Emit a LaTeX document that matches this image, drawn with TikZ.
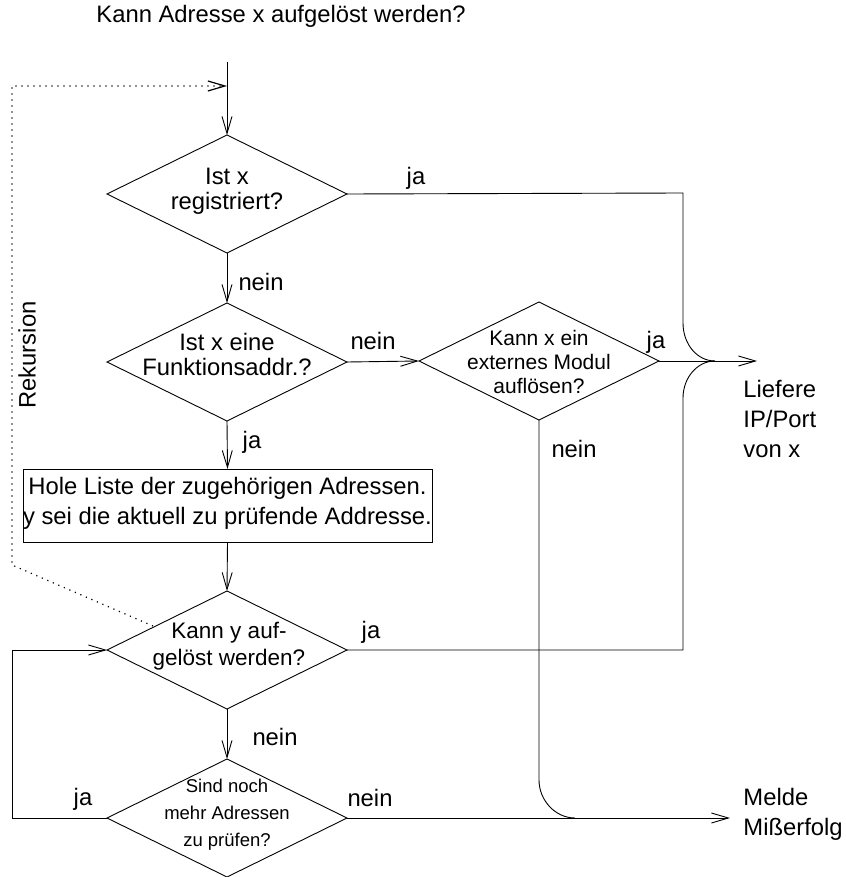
\documentclass[tikz,border=0pt]{standalone}
\usepackage{fontspec}
\setmainfont{Liberation Sans}
\usetikzlibrary{shapes.geometric,arrows.meta}
\begin{document}
\begin{tikzpicture}[x=1pt,y=-1pt,
  line width=0.9pt, >={Straight Barb[length=17pt,width=10pt]},
  dia/.style={shape=diamond, draw, minimum width=240pt, minimum height=118pt, inner sep=0pt, outer sep=0pt},
  txt/.style={font=\fontsize{23.8}{25}\selectfont, align=center, inner sep=0pt},
  lbl/.style={font=\fontsize{23.8}{25}\selectfont, inner sep=0pt},
  rec/.style={line width=1.2pt, dash pattern=on 1.2pt off 4.8pt}]
\useasboundingbox (0,0) rectangle (845,877);

% title and entry
\node[lbl] (title) at (281,16) {Kann Adresse x aufgelöst werden?};
\coordinate (start) at (227,62);
\coordinate (entry) at (227,86);

% decisions
\node[dia] (d1) at (227,194) {};
\node[txt] (t1) at (227,191) {Ist x\\registriert?};
\node[dia] (d2) at (227,362) {};
\node[txt] (t2) at (227,354) {Ist x eine\\Funktionsaddr.?};
\node[dia] (d3) at (539,361) {};
\node[txt, font=\fontsize{21}{24}\selectfont] (t3) at (539,362) {Kann x ein\\externes Modul\\auflösen?};
\node[draw, minimum width=409pt, minimum height=73pt, inner sep=0pt, outer sep=0pt] (box) at (227.5,505.5) {};
\node[txt, font=\fontsize{23.8}{30}\selectfont] (tb) at (227.5,503) {Hole Liste der zugehörigen Adressen.\\y sei die aktuell zu prüfende Addresse.};
\node[dia] (d4) at (227,650) {};
\node[txt, font=\fontsize{22.5}{27}\selectfont] (t4) at (229,646) {Kann y auf-\\gelöst werden?};
\node[dia] (d5) at (227,818) {};
\node[txt, font=\fontsize{18.5}{27}\selectfont] (t5) at (227,815) {Sind noch\\mehr Adressen\\zu prüfen?};

% outcomes
\node[txt, align=left, anchor=north west, font=\fontsize{23.8}{30}\selectfont] (liefere) at (743,380) {Liefere\\IP/Port\\von x};
\node[txt, align=left, anchor=north west, font=\fontsize{23.8}{30}\selectfont] (melde) at (743,788) {Melde\\Mißerfolg};
\node[lbl, rotate=90] (rek) at (27,355) {Rekursion};

% helper coordinates
\coordinate (c1) at (683,193);
\coordinate (c2) at (683,323);
\coordinate (merge) at (715,361);
\coordinate (lief) at (757,361);
\coordinate (c4) at (683,650);
\coordinate (c5) at (683,398);
\coordinate (c6) at (539,780);
\coordinate (c7) at (575,818);
\coordinate (mfail) at (730,818);
\coordinate (l1) at (12,818);
\coordinate (l2) at (12,650);
\coordinate (rk1) at (12,86);
\coordinate (rk2) at (12,565);
\coordinate (rk3) at (153,626);

% connectors
\draw[->] (start) -- (d1.north);
\draw[->] (d1.south) -- (d2.north);
\draw[->] (d2.east) -- (d3.west);
\draw[->] (d2.south) -- (box.north);
\draw[->] (box.south) -- (d4.north);
\draw[->] (d4.south) -- (d5.north);
\draw (d1.east) -- (c1) -- (c2) .. controls (683,344) and (697,361) .. (merge);
\draw[->] (d3.east) -- (lief);
\draw (d4.east) -- (c4) -- (c5) .. controls (683,378) and (697,361) .. (merge);
\draw (d3.south) -- (c6) .. controls (539,800) and (555,818) .. (c7);
\draw[->] (d5.east) -- (mfail);
\draw[->] (d5.west) -- (l1) -- (l2) -- (d4.west);
\draw[rec,->] (rk3) -- (rk2) -- (rk1) -- (entry);

% branch labels
\node[lbl] (ja1) at (416,178) {ja};
\node[lbl] (nein1) at (261,282) {nein};
\node[lbl] (nein2) at (373,341) {nein};
\node[lbl] (ja3) at (656,342) {ja};
\node[lbl] (ja2) at (252,442) {ja};
\node[lbl] (nein3) at (574,449) {nein};
\node[lbl] (ja4) at (371,632) {ja};
\node[lbl] (nein4) at (275,737) {nein};
\node[lbl] (ja5) at (83,799) {ja};
\node[lbl] (nein5) at (370,798) {nein};
\end{tikzpicture}
\end{document}
